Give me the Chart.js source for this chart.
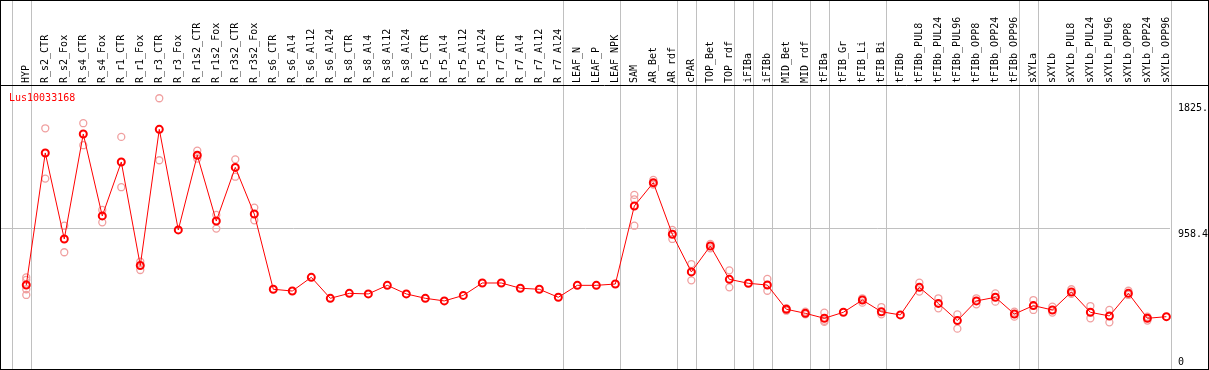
<!DOCTYPE html>
<html>
<head>
<meta charset="utf-8">
<script src="https://cdn.jsdelivr.net/npm/chart.js@4"></script>
<style>
  html, body { margin: 0; padding: 0; background: #fff; }
  #wrap { width: 1209px; height: 370px; position: relative; }
</style>
</head>
<body>
<div id="wrap"><canvas id="expr"></canvas></div>
<script>
// Sample names, left to right
const categories = [
  'HYP', 'R_s2_CTR', 'R_s2_Fox', 'R_s4_CTR', 'R_s4_Fox', 'R_r1_CTR', 'R_r1_Fox',
  'R_r3_CTR', 'R_r3_Fox', 'R_r1s2_CTR', 'R_r1s2_Fox', 'R_r3s2_CTR', 'R_r3s2_Fox',
  'R_s6_CTR', 'R_s6_Al4', 'R_s6_Al12', 'R_s6_Al24', 'R_s8_CTR', 'R_s8_Al4', 'R_s8_Al12', 'R_s8_Al24',
  'R_r5_CTR', 'R_r5_Al4', 'R_r5_Al12', 'R_r5_Al24', 'R_r7_CTR', 'R_r7_Al4', 'R_r7_Al12', 'R_r7_Al24',
  'LEAF_N', 'LEAF_P', 'LEAF_NPK', 'SAM', 'AR_Bet', 'AR_rdf', 'cPAR', 'TOP_Bet', 'TOP_rdf',
  'iFIBa', 'iFIBb', 'MID_Bet', 'MID_rdf', 'tFIBa', 'tFIB_Gr', 'tFIB_Li', 'tFIB_Bi', 'tFIBb',
  'tFIBb_PUL8', 'tFIBb_PUL24', 'tFIBb_PUL96', 'tFIBb_OPP8', 'tFIBb_OPP24', 'tFIBb_OPP96',
  'sXYLa', 'sXYLb', 'sXYLb_PUL8', 'sXYLb_PUL24', 'sXYLb_PUL96', 'sXYLb_OPP8', 'sXYLb_OPP24', 'sXYLb_OPP96'
];

// Mean expression per sample
const means = [
  569, 1475, 885, 1605, 1043, 1413, 703, 1637, 947, 1459, 1008, 1376, 1056,
  540, 528, 622, 478, 512, 508, 567, 508,
  478, 460, 498, 583, 583, 547, 540, 485,
  567, 567, 576, 1111, 1271, 917, 659, 837, 608,
  581, 569, 403, 375, 341, 382, 466, 386, 364,
  553, 443, 325, 460, 485, 370,
  428, 398, 521, 382, 357, 512, 341, 352
];

// Individual replicates (empty = hidden under the mean)
const replicates = [
  [622, 604, 540, 501], [1644, 1299], [976, 794], [1679, 1528], [1084, 999], [1585, 1240], [729, 672],
  [1850, 1425], [], [1491, 1436], [1050, 956], [1431, 1312], [1100, 1013],
  [], [], [], [], [], [], [], [],
  [], [], [], [], [], [], [], [],
  [], [], [], [1187, 1157, 976], [1290, 1265, 1258], [947, 920, 885], [713, 660, 601], [851, 821], [670, 553],
  [], [611, 530], [410, 393], [387, 368], [380, 324, 316], [], [478, 448], [418, 368], [],
  [585, 524], [478, 409], [368, 270], [478, 437], [512, 455], [386, 352],
  [466, 398], [421, 380], [540, 508], [425, 341], [398, 313], [530, 501], [352, 325], []
];

// Right axis labels
const yTicks = [0, 958.4, 1825];
const yTickLabels = ['0', '958.4', '1825.'];

// Group separators: drawn just after these sample indices
const groupEnds = [-1, 0, 28, 31, 34, 35, 37, 38, 39, 41, 42, 45, 52, 53, 60];

const geneId = 'Lus10033168';

const MONO = '"DejaVu Sans Mono", monospace';

const meanPoints = means.map((v, i) => ({ x: i, y: v }));
const repPoints = [];
replicates.forEach((list, i) => list.forEach(v => repPoints.push({ x: i, y: v })));

// Frame, header line, group separators and gene name
const framePlugin = {
  id: 'frame',
  beforeDatasetsDraw(chart) {
    const { ctx, scales } = chart;
    ctx.save();
    ctx.strokeStyle = '#c0c0c0';
    ctx.lineWidth = 1;
    groupEnds.forEach(i => {
      const x = Math.round(scales.x.getPixelForValue(i + 0.24)) + 0.5;
      ctx.beginPath();
      ctx.moveTo(x, 0);
      ctx.lineTo(x, chart.height);
      ctx.stroke();
    });
    ctx.restore();
  },
  afterDraw(chart) {
    const { ctx, chartArea } = chart;
    ctx.save();
    ctx.strokeStyle = '#000';
    ctx.lineWidth = 1;
    ctx.strokeRect(0.5, 0.5, chart.width - 1, chart.height - 1);
    ctx.beginPath();
    ctx.moveTo(0, chartArea.top + 0.5);
    ctx.lineTo(chart.width, chartArea.top + 0.5);
    ctx.stroke();
    ctx.fillStyle = '#ff0000';
    ctx.font = '10px ' + MONO;
    ctx.textBaseline = 'top';
    ctx.fillText(geneId, 9, chartArea.top + 8);
    ctx.restore();
  }
};

new Chart(document.getElementById('expr'), {
  type: 'line',
  data: {
    datasets: [
      {
        label: 'mean',
        data: meanPoints,
        borderColor: '#ff0000',
        borderWidth: 1,
        pointRadius: 3.5,
        pointBorderWidth: 2,
        pointBorderColor: '#ff0000',
        pointBackgroundColor: 'rgba(0,0,0,0)',
        tension: 0,
        clip: false
      },
      {
        label: 'replicates',
        data: repPoints,
        showLine: false,
        pointRadius: 3.5,
        pointBorderWidth: 1.3,
        pointBorderColor: '#f0a0a0',
        pointBackgroundColor: 'rgba(0,0,0,0)',
        clip: false
      }
    ]
  },
  options: {
    responsive: true,
    maintainAspectRatio: false,
    animation: false,
    layout: { autoPadding: false, padding: { left: 1, right: 0, top: 0, bottom: 2 } },
    plugins: {
      legend: { display: false },
      tooltip: { enabled: false }
    },
    scales: {
      x: {
        type: 'linear',
        position: 'top',
        min: -1.33,
        max: 60.19,
        afterBuildTicks: axis => { axis.ticks = categories.map((c, i) => ({ value: i })); },
        afterFit: axis => {
          axis.height = 85;
          axis.paddingLeft = 0;
          axis.paddingRight = 0;
        },
        grid: { display: false, drawTicks: false },
        border: { display: false },
        ticks: {
          autoSkip: false,
          minRotation: 90,
          maxRotation: 90,
          padding: 2,
          labelOffset: 12,
          color: '#000',
          font: { family: MONO, size: 10 },
          callback: v => categories[v]
        }
      },
      y: {
        type: 'linear',
        position: 'right',
        min: 0,
        max: 1941,
        afterBuildTicks: axis => { axis.ticks = yTicks.map(v => ({ value: v })); },
        afterFit: axis => {
          axis.width = 39;
          axis.paddingTop = 0;
          axis.paddingBottom = 0;
        },
        grid: {
          drawTicks: false,
          color: c => (c.tick && c.tick.value === 958.4 ? '#c0c0c0' : 'rgba(0,0,0,0)')
        },
        border: { display: false },
        ticks: {
          padding: 8,
          color: '#000',
          font: { family: MONO, size: 10 },
          callback: (v, i) => (v === 0 ? [yTickLabels[i], ''] : ['', yTickLabels[i]])
        }
      }
    }
  },
  plugins: [framePlugin]
});
</script>
</body>
</html>
